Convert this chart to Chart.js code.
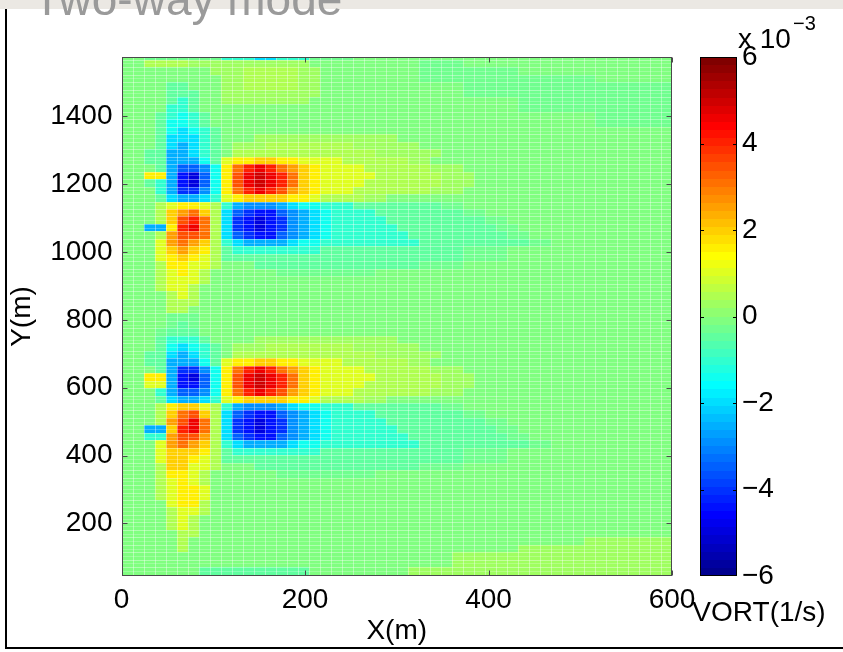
<!DOCTYPE html>
<html>
<head>
<meta charset="utf-8">
<title>Two-way mode</title>
<script src="https://cdn.jsdelivr.net/npm/chart.js@4.4.0/dist/chart.umd.min.js"></script>
<style>
  html, body { margin: 0; padding: 0; background: #fff; }
  canvas { display: block; }
</style>
</head>
<body>
<canvas id="vortChart" width="843" height="652"></canvas>
<script>
// axis ranges and tick labels
const xRange = [0, 600];
const yRange = [45, 1575];
const cRange = [-6, 6];            // colour limits, x 10^-3 1/s
const xTicks = [0, 200, 400, 600];
const yTicks = [200, 400, 600, 800, 1000, 1200, 1400];
const cTicks = [-6, -4, -2, 0, 2, 4, 6];

// pcolor grid: cell edges (m)
const xEdges = [0, 12, 24, 36, 48, 60, 72, 84, 96, 108, 120, 132, 144, 156, 168, 180, 192, 204, 216, 228,
  240, 252, 264, 276, 288, 300, 312, 324, 336, 348, 360, 372, 384, 396, 408, 420, 432, 444, 456, 468,
  480, 492, 504, 516, 528, 540, 552, 564, 576, 588, 600];
const yEdges = [27, 49, 71, 93, 115, 137, 159, 181, 203, 225, 247, 269, 291, 313, 335, 357, 379, 401, 423, 445,
  467, 489, 511, 533, 555, 577, 599, 621, 643, 665, 687, 709, 731, 753, 775, 797, 819, 841, 863, 885,
  907, 929, 951, 973, 995, 1017, 1039, 1061, 1083, 1105, 1127, 1149, 1171, 1193, 1215, 1237, 1259, 1281,
  1303, 1325, 1347, 1369, 1391, 1413, 1435, 1457, 1479, 1501, 1523, 1545, 1567, 1589];

// vorticity, one letter per cell: a = -6 ... m ~ 0 ... y = +6 (steps of 0.5),
// L / N = faint negative / positive tint. First string is the top row; spaces only group the columns.
const levelCodes = 'abcdefghijklmnopqrstuvwxy';
const faintLevels = { L: -0.3, m: -0.1, N: 0.2 };
const vortRows = [
  'mm LLLLLLL kkkiikkkLL LLmmmmmmmmmm mmmmmmmmmmmmmmmmmmm',
  'mm nnnnNNN NNNNNNNNmm mmmmmmmmLLLL mmmmmmmmmmmmmmmmmmm',
  'mm mmmmmmN NNnnnnnNNm mmmmmmmmLLLL LLLLLmmmmmmmmmmmmmm',
  'mm mmmmmmm NNnnnnnNNm mmmmmmmmLLLL LLLLLLLLLLLLmmmmmmm',
  'mm mmllmmm NNnnnnnNNm mmmmmmmmmmmm LLLLLLLLLLLLLLLLLLL',
  'mm mmlllmm NNNNNNNNNm mmmmmmmmmmmm LLLLLLLLLLLLLLLLLLL',
  'mm mmlklmm NNNNNNNNmm mmmmmmmmmmmm mmmmmLLLLLLLLLLLLLL',
  'mm mmkklmm mmmmmmmmmm mmmmmmmmmmmm mmmmmLLLLLLLLLLLLLL',
  'mm mlkjklm mmmmmmmmmm mmmmmmmmmmmm mmmmmmmmmmmmLLLLLLL',
  'mm mljjklm mmmmmmmmmm mmmmmmmmmmmm mmmmmmmmmmmmLLLLLLL',
  'mm mljijkl mmmmmmmmmm mmmmmmmmmmmm mmmmmmmmmmmmmmmmmmm',
  'mm mliiikl mmmNNNNNNN NNNNNNmmmmmm mmmmmmmmmmmmmmmmmmm',
  'mm mlihikl mNNNnnnnnn nnNNNNNNmmmm mmmmmmmmmmmmmmmmmmm',
  'mm llhhikl mnnnnnnnnn nnnnNNNNNNmm mmmmmmmmmmmmmmmmmmm',
  'mm llhhhjl oppqqppooo onnnnnnNNmmm mmmmmmmmmmmmmmmmmmm',
  'mm mlhffgj psuvusrqpo ooonnnnnnNNN mmmmmmmmmmmmmmmmmmm',
  'mm pphdcfj ptvwvusqpo oooonnnnnnNN Nmmmmmmmmmmmmmmmmmm',
  'mm lkhdcfj ptvwvusqpo ooonnnnnnnNN Nmmmmmmmmmmmmmmmmmm',
  'mm mkheegj psuvutrqpo oonnnnnnnNNN mmmmmmmmmmmmmmmmmmm',
  'mm mlihhik opqqqqppon nnnNNmmmmmmm mmmmmmmmmmmmmmmmmmm',
  'mm mnoppon khggghijjk kkllllllllLL mmmmmmmmmmmmmmmmmmm',
  'mm mnqrsqn ifeddfghij kkkkllllllll LLmmmmmmmmmmmmmmmmm',
  'mm mnqtusn iedcdeghij kkkkklllllll llLLmmmmmmmmmmmmmmm',
  'mm hhpuvsn iedcdeghij kkkkkkllllll lllLLmmmmmmmmmmmmmm',
  'mm mnrttsn ifeddfghij kkkkkkklllll llllLLmmmmmmmmmmmmm',
  'mm morsrqn kihhhhijjk kkkkkkkkllll llllllLLmmmmmmmmmmm',
  'mm moqrqpn lkkkkkkkkl llllllllllll LLLLmmmmmmmmmmmmmmm',
  'mm mopqpon llllllllll llllllllllll LLLLmmmmmmmmmmmmmmm',
  'mm mnppoon mmmlllllll llllllllLLLL mmmmmmmmmmmmmmmmmmm',
  'mm mnoponm mmmmmLLLLL LLLLmmmmmmmm mmmmmmmmmmmmmmmmmmm',
  'mm mnooonm mmmmmmmmmm mmmmmmmmmmmm mmmmmmmmmmmmmmmmmmm',
  'mm mnoonmm mmmmmmmmmm mmmmmmmmmmmm mmmmmmmmmmmmmmmmmmm',
  'mm mmnonmm mmmmmmmmmm mmmmmmmmmmmm mmmmmmmmmmmmmmmmmmm',
  'mm mmnnnmm mmmmmmmmmm mmmmmmmmmmmm mmmmmmmmmmmmmmmmmmm',
  'mm mmnnmmm mmmmmmmmmm mmmmmmmmmmmm mmmmmmmmmmmmmmmmmmm',
  'mm mmLLLmm mmmmmmmmmm mmmmmmmmmmmm mmmmmmmmmmmmmmmmmmm',
  'mm mmLlLmm mmmmmmmmmm mmmmmmmmmmmm mmmmmmmmmmmmmmmmmmm',
  'mm mLlllmm mmmmmmmmmm mmmmmmmmmmmm mmmmmmmmmmmmmmmmmmm',
  'mm mlkkklm mmmNNNNNNN NNNNNNmmmmmm mmmmmmmmmmmmmmmmmmm',
  'mm mljijkl mNNNnnnnnn nnNNNNNNmmmm mmmmmmmmmmmmmmmmmmm',
  'mm llihikl mnnnnnnnnn nnnnNNNNNNmm mmmmmmmmmmmmmmmmmmm',
  'mm llhhhjl oppqqppooo onnnnnnNNmmm mmmmmmmmmmmmmmmmmmm',
  'mm mlheegj psuvusrqpo ooonnnnnnNNN mmmmmmmmmmmmmmmmmmm',
  'mm pphdcfj ptvwvusqpo oooonnnnnnNN Nmmmmmmmmmmmmmmmmmm',
  'mm oohddfj ptvwvusqpo ooonnnnnnnNN Nmmmmmmmmmmmmmmmmmm',
  'mm mkhffgj psuvutrqpo oonnnnnnnNNN mmmmmmmmmmmmmmmmmmm',
  'mm mlihhik opqqqqppon nnnNNmmmmmmm mmmmmmmmmmmmmmmmmmm',
  'mm mnpqqon khggghijjk kkllllllllLL mmmmmmmmmmmmmmmmmmm',
  'mm mnqstqn ifeddfghij kkkkllllllll LLmmmmmmmmmmmmmmmmm',
  'mm mnrtvsn iedcdeghij kkkkklllllll llLLmmmmmmmmmmmmmmm',
  'mm hhquvsn iedcdeghij kkkkkkllllll lllLLmmmmmmmmmmmmmm',
  'mm kkrttrn ifeddfghij kkkkkkklllll llllLLmmmmmmmmmmmmm',
  'mm morsrqn kihhhhijjk kkkkkkkkllll llllllLLmmmmmmmmmmm',
  'mm moqqqpn lkkkkkkkkl llllllllllll LLLLmmmmmmmmmmmmmmm',
  'mm moqqpon llllllllll llllllllllll LLLLmmmmmmmmmmmmmmm',
  'mm mnqqoon mmmlllllll llllllllLLLL mmmmmmmmmmmmmmmmmmm',
  'mm mnpponm mmmmmLLLLL LLLLmmmmmmmm mmmmmmmmmmmmmmmmmmm',
  'mm mnoponm mmmmmmmmmm mmmmmmmmmmmm mmmmmmmmmmmmmmmmmmm',
  'mm mnoppom mmmmmmmmmm mmmmmmmmmmmm mmmmmmmmmmmmmmmmmmm',
  'mm mnoppom mmmmmmmmmm mmmmmmmmmmmm mmmmmmmmmmmmmmmmmmm',
  'mm mmoppnm mmmmmmmmmm mmmmmmmmmmmm mmmmmmmmmmmmmmmmmmm',
  'mm mmnoonm mmmmmmmmmm mmmmmmmmmmmm mmmmmmmmmmmmmmmmmmm',
  'mm mmnonmm mmmmmmmmmm mmmmmmmmmmmm mmmmmmmmmmmmmmmmmmm',
  'mm mmnonmm mmmmmmmmmm mmmmmmmmmmmm mmmmmmmmmmmmmmmmmmm',
  'mm mmmnnmm mmmmmmmmmm mmmmmmmmmmmm mmmmmmmmmmmmmmmmmmm',
  'mm mmmnmmm mmmmmmmmmm mmmmmmmmmmmm mmmmmmmmmmmNNNNNNNN',
  'mm mmmnmmm mmmmmmmmmm mmmmmmmmmmmm mmmmmNNNNNNNNNNNNNN',
  'mm mmmmmmm mmmmmmmmmm mmmmmmmmmmmN NNNNNNNNNNNNNNNNNNN',
  'mm mmmmmmm mmmmmmmmmm mmmmmmmmmmmN NNNNNNNNNNNNNNNNNNN',
  'mm mmmmmll llllllllmm mmmmmmmNNNNN NNNNNNNNNNNNNNNNNNN',
  'mm mmmmmll llllllllmm mmmmmmmNNNNN NNNNNNNNNNNNNNNNNNN'
];

const FONT = '"Liberation Sans", Arial, Helvetica, sans-serif';

function levelOf(ch) {
  if (ch in faintLevels) return faintLevels[ch];
  const i = levelCodes.indexOf(ch);
  return i < 0 ? faintLevels.m : -6 + i * 0.5;
}

// MATLAB jet(64)
function jetMap(n) {
  const m = Math.ceil(n / 4);
  const u = [];
  for (let i = 1; i <= m; i++) u.push(i / m);
  for (let i = 0; i < m - 1; i++) u.push(1);
  for (let i = m; i >= 1; i--) u.push(i / m);
  const g0 = Math.ceil(m / 2) - (n % 4 === 1 ? 1 : 0);
  const map = Array.from({ length: n }, () => [0, 0, 0]);
  u.forEach((val, i) => {
    const g = g0 + i, r = g + m, b = g - m;
    if (g >= 0 && g < n) map[g][1] = val;
    if (r >= 0 && r < n) map[r][0] = val;
    if (b >= 0 && b < n) map[b][2] = val;
  });
  return map;
}
const jet = jetMap(64);
const rgb = c => `rgb(${Math.round(c[0] * 255)},${Math.round(c[1] * 255)},${Math.round(c[2] * 255)})`;

function colorFor(v) {
  const n = jet.length;
  let i = Math.floor((v - cRange[0]) / (cRange[1] - cRange[0]) * n);
  i = Math.max(0, Math.min(n - 1, i));
  return rgb(jet[i]);
}

// draws the pcolor cells through the x / y scales
const pcolorPlugin = {
  id: 'pcolor',
  beforeDatasetsDraw(chart) {
    const { ctx, chartArea: a, scales: { x, y } } = chart;
    ctx.save();
    ctx.beginPath();
    ctx.rect(a.left, a.top, a.right - a.left, a.bottom - a.top);
    ctx.clip();
    const nRows = vortRows.length;
    vortRows.forEach((row, i) => {
      const r = nRows - 1 - i;
      const cells = row.replace(/ /g, '');
      const top = Math.round(y.getPixelForValue(yEdges[r + 1]));
      const bottom = Math.round(y.getPixelForValue(yEdges[r]));
      for (let k = 0; k < xEdges.length - 1; k++) {
        const left = Math.round(x.getPixelForValue(xEdges[k]));
        const right = Math.round(x.getPixelForValue(xEdges[k + 1]));
        ctx.fillStyle = colorFor(levelOf(cells[k] || 'm'));
        ctx.fillRect(left, top, right - left, bottom - top);
      }
    });
    // light mesh lines, as in the exported figure
    ctx.lineWidth = 1;
    ctx.strokeStyle = 'rgba(255,255,255,0.38)';
    ctx.beginPath();
    xEdges.forEach(v => {
      const px = Math.round(x.getPixelForValue(v)) + 0.5;
      ctx.moveTo(px, a.top); ctx.lineTo(px, a.bottom);
    });
    yEdges.forEach(v => {
      const py = Math.round(y.getPixelForValue(v)) + 0.5;
      ctx.moveTo(a.left, py); ctx.lineTo(a.right, py);
    });
    ctx.stroke();
    ctx.strokeStyle = 'rgba(255,255,255,0.22)';
    ctx.beginPath();
    for (let r = 0; r < yEdges.length - 1; r++) {
      const py = Math.round(y.getPixelForValue((yEdges[r] + yEdges[r + 1]) / 2)) + 0.5;
      ctx.moveTo(a.left, py); ctx.lineTo(a.right, py);
    }
    ctx.stroke();
    ctx.restore();
  }
};

// page frame, title, axes box, colorbar
const figurePlugin = {
  id: 'figure',
  beforeDraw(chart) {
    const { ctx, width, height } = chart;
    ctx.save();
    ctx.fillStyle = '#fff';
    ctx.fillRect(0, 0, width, height);
    ctx.fillStyle = '#ebe8e3';
    ctx.fillRect(0, 0, width, 9);
    ctx.fillStyle = '#9a9a9a';
    ctx.font = '46px ' + FONT;
    ctx.textBaseline = 'alphabetic';
    ctx.textAlign = 'left';
    ctx.fillText('Two-way mode', 33, 15);
    ctx.fillStyle = '#000';
    ctx.fillRect(5, 9, 2, 640);
    ctx.fillRect(5, 647, width - 5, 2);
    ctx.restore();
  },
  afterDraw(chart) {
    const { ctx, chartArea: a, scales: { x, y, c } } = chart;
    ctx.save();
    const L = Math.round(a.left) + 0.5, R = Math.round(a.right) - 0.5;
    const T = Math.round(a.top) + 0.5, B = Math.round(a.bottom) - 0.5;
    ctx.strokeStyle = '#4a4a4a';
    ctx.lineWidth = 1;
    ctx.strokeRect(L, T, R - L, B - T);
    ctx.beginPath();
    xTicks.forEach(v => {
      const px = Math.round(x.getPixelForValue(v)) + 0.5;
      ctx.moveTo(px, B); ctx.lineTo(px, B - 5);
      ctx.moveTo(px, T); ctx.lineTo(px, T + 5);
    });
    yTicks.forEach(v => {
      const py = Math.round(y.getPixelForValue(v)) + 0.5;
      ctx.moveTo(L, py); ctx.lineTo(L + 5, py);
      ctx.moveTo(R, py); ctx.lineTo(R - 5, py);
    });
    ctx.stroke();

    // colorbar
    const barL = 700, barR = 737;
    const n = jet.length;
    for (let j = 0; j < n; j++) {
      const v0 = c.min + (c.max - c.min) * j / n;
      const v1 = c.min + (c.max - c.min) * (j + 1) / n;
      const top = Math.round(c.getPixelForValue(v1));
      const bot = Math.round(c.getPixelForValue(v0));
      ctx.fillStyle = rgb(jet[j]);
      ctx.fillRect(barL, top, barR - barL, bot - top);
    }
    const cT = Math.round(c.getPixelForValue(c.max)) + 0.5;
    const cB = Math.round(c.getPixelForValue(c.min)) - 0.5;
    ctx.strokeStyle = '#000';
    ctx.strokeRect(barL + 0.5, cT, barR - barL - 1, cB - cT);
    ctx.beginPath();
    cTicks.forEach(v => {
      if (v === c.min || v === c.max) return;
      const py = Math.round(c.getPixelForValue(v)) + 0.5;
      ctx.moveTo(barL, py); ctx.lineTo(barL + 4, py);
      ctx.moveTo(barR, py); ctx.lineTo(barR - 4, py);
    });
    ctx.stroke();

    ctx.fillStyle = '#000';
    ctx.textAlign = 'left';
    ctx.textBaseline = 'alphabetic';
    ctx.font = '28px ' + FONT;
    ctx.fillText('x 10', 738, 48);
    ctx.font = '20px ' + FONT;
    ctx.fillText('\u22123', 793, 30);
    ctx.font = '28px ' + FONT;
    ctx.textAlign = 'center';
    ctx.fillText('VORT(1/s)', 759, 621);
    ctx.restore();
  }
};

const tickFont = { family: FONT, size: 28 };
const plainLabel = v => String(v);
const minusSign = v => (v < 0 ? '\u2212' + (-v) : String(v));
// pin the axis boxes so the plot area matches the figure
const pinBox = size => s => {
  if (s.isHorizontal()) s.height = size; else s.width = size;
  s.paddingTop = 0; s.paddingBottom = 0;
};

new Chart(document.getElementById('vortChart'), {
  type: 'scatter',
  data: { datasets: [{ data: [] }] },
  options: {
    responsive: false,
    animation: false,
    devicePixelRatio: 1,
    layout: { padding: { top: 57, left: 0, right: 0, bottom: 0 } },
    plugins: { legend: { display: false }, tooltip: { enabled: false } },
    scales: {
      x: {
        type: 'linear', position: 'bottom', min: xRange[0], max: xRange[1],
        afterBuildTicks: s => { s.ticks = xTicks.map(v => ({ value: v })); },
        afterFit: pinBox(76),
        grid: { display: false, drawTicks: false },
        border: { display: false },
        ticks: { color: '#000', font: tickFont, padding: 7, maxRotation: 0, autoSkip: false, callback: plainLabel },
        title: { display: true, text: 'X(m)', color: '#000', font: tickFont, padding: { top: 0, bottom: 4 } }
      },
      y: {
        type: 'linear', position: 'left', min: yRange[0], max: yRange[1],
        afterBuildTicks: s => { s.ticks = yTicks.map(v => ({ value: v })); },
        afterFit: pinBox(121.5),
        grid: { display: false, drawTicks: false },
        border: { display: false },
        ticks: { color: '#000', font: tickFont, padding: 9, autoSkip: false, callback: plainLabel },
        title: { display: true, text: 'Y(m)', color: '#000', font: tickFont, padding: { top: 5, bottom: 0 } }
      },
      c: {
        type: 'linear', position: 'right', min: cRange[0], max: cRange[1],
        afterBuildTicks: s => { s.ticks = cTicks.map(v => ({ value: v })); },
        afterFit: pinBox(171),
        grid: { display: false, drawTicks: false },
        border: { display: false },
        ticks: { color: '#000', font: tickFont, padding: 70, autoSkip: false, callback: minusSign }
      }
    }
  },
  plugins: [pcolorPlugin, figurePlugin]
});
</script>
</body>
</html>
